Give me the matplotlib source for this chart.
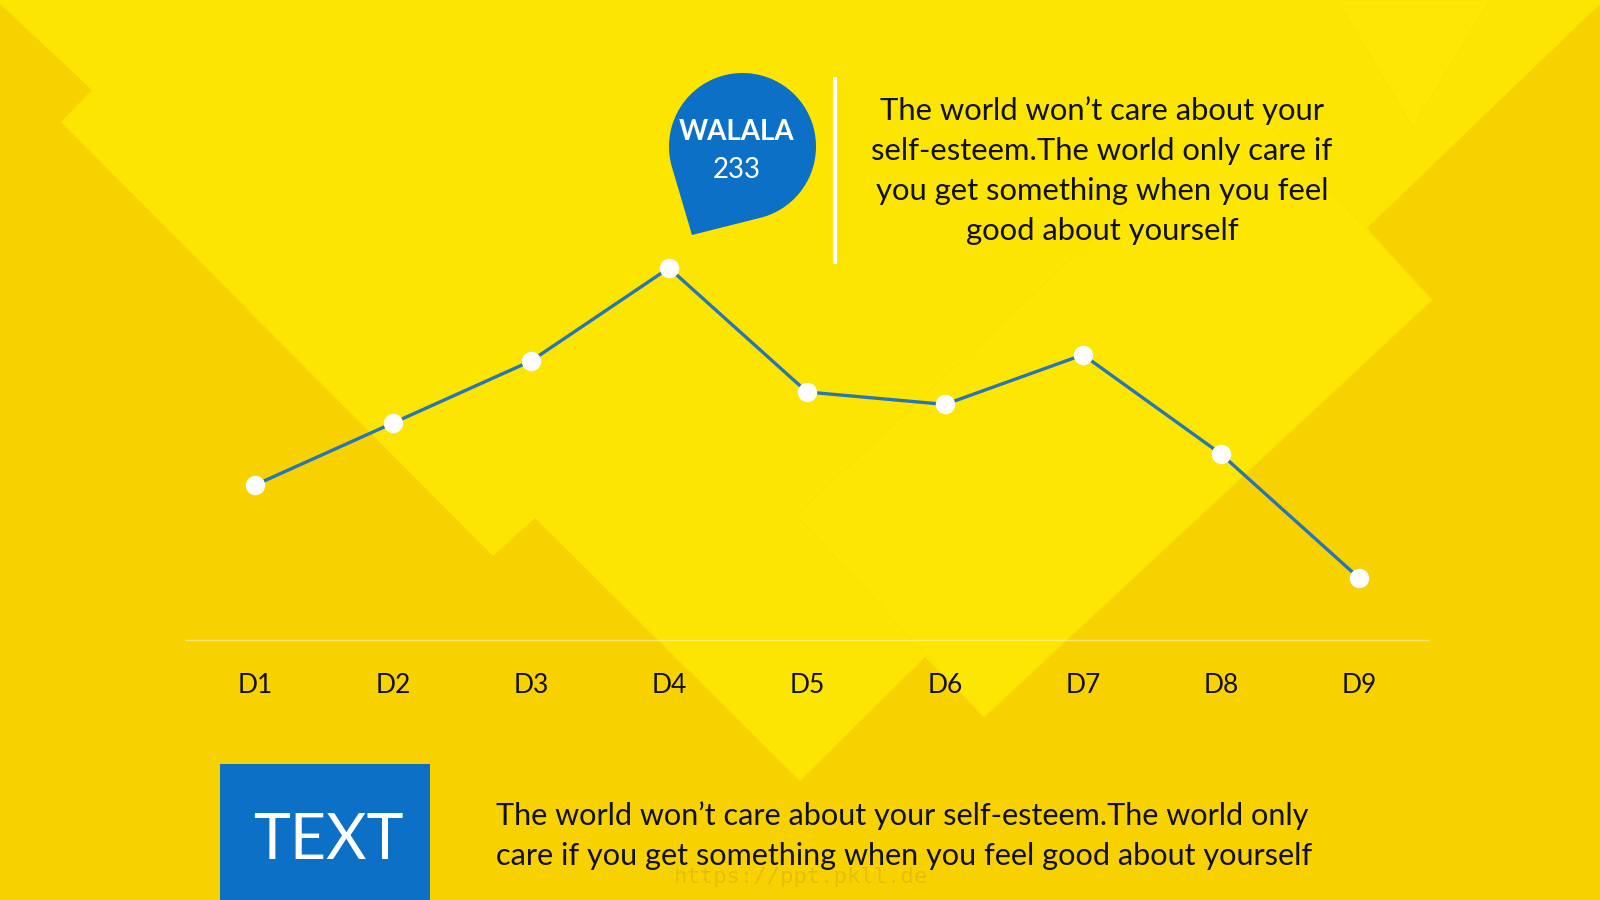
import numpy as np
import matplotlib.pyplot as plt
from matplotlib.patches import Polygon, Rectangle

plt.rcParams['font.family'] = ['Lato', 'DejaVu Sans']

# chart data
days = ['D1', 'D2', 'D3', 'D4', 'D5', 'D6', 'D7', 'D8', 'D9']
values = [2.5, 3.5, 4.5, 6.0, 4.0, 3.8, 4.6, 3.0, 1.0]

# callout / captions
bubble_title = 'WALALA'
bubble_value = '233'
quote_lines = [
    'The world won\u2019t care about your',
    'self-esteem.The world only care if',
    'you get something when you feel',
    'good about yourself',
]
foot_title = 'TEXT'
foot_lines = [
    'The world won\u2019t care about your self-esteem.The world only',
    'care if you get something when you feel good about yourself',
]

ORANGE = '#F8D200'
BRIGHT = '#FCE500'
BLUE = '#0B70C6'
LINE = '#2A76B4'

fig = plt.figure(figsize=(16, 9), dpi=100)
fig.patch.set_facecolor(ORANGE)

# background (pixel coords, y down)
bg = fig.add_axes([0, 0, 1, 1], zorder=0)
bg.set_xlim(0, 1600)
bg.set_ylim(900, 0)
bg.axis('off')
bg.add_patch(Rectangle((0, 0), 1600, 900, color=ORANGE, lw=0))
bright_shape = [(0, 0), (1600, 0), (1600, 4), (1367, 228), (1432, 300),
                (984, 717), (925, 657), (800, 781), (535, 518), (493, 556),
                (61, 122), (92, 90), (0, 4)]
bg.add_patch(Polygon(bright_shape, closed=True, color=BRIGHT, lw=0))
# faint diamonds for texture
bg.add_patch(Polygon([(796, 515), (984, 717), (1432, 300), (1244, 98)],
                     closed=True, fc='#FDE702', ec='#FAE200', lw=0.6))
bg.add_patch(Polygon([(1337, 0), (1490, 0), (1413, 128)],
                     closed=True, fc='#FDE703', ec='#FAE200', lw=0.6))

# line chart
ax = fig.add_axes([186 / 1600, 1 - 640 / 900, 1242 / 1600, 434 / 900], zorder=1)
ax.patch.set_alpha(0)
ax.set_xlim(-0.5, 8.5)
ax.set_ylim(0, 7)
for side in ['top', 'left', 'right']:
    ax.spines[side].set_visible(False)
ax.spines['bottom'].set_color((1, 1, 1, 0.45))
ax.spines['bottom'].set_linewidth(1)
ax.set_yticks([])
ax.set_xticks(range(len(days)))
ax.set_xticklabels(days)
ax.tick_params(axis='x', length=0, pad=24, labelsize=19, labelcolor='#111111')
ax.plot(range(len(days)), values, color=LINE, lw=2.4, marker='o', ms=14,
        mfc='white', mec='white', mew=0, clip_on=False, zorder=3)

# overlay: callout bubble, divider, text blocks
ov = fig.add_axes([0, 0, 1, 1], zorder=2)
ov.patch.set_alpha(0)
ov.set_xlim(0, 1600)
ov.set_ylim(900, 0)
ov.axis('off')

cx, cy, r = 742.5, 146.5, 73.5
tip = np.array([692.0, 235.0])
v = tip - np.array([cx, cy])
d = np.hypot(*v)
theta = np.arctan2(v[1], v[0])
alpha = np.arccos(r / d)
ang = np.linspace(theta + alpha, theta - alpha + 2 * np.pi, 120)
drop = np.column_stack([cx + r * np.cos(ang), cy + r * np.sin(ang)])
drop = np.vstack([tip, drop])
ov.add_patch(Polygon(drop, closed=True, color=BLUE, lw=0))
ov.text(737, 132, bubble_title, color='white', fontsize=20, fontweight='bold',
        ha='center', va='center')
ov.text(737, 170, bubble_value, color='white', fontsize=20,
        ha='center', va='center')

ov.plot([835, 835], [77, 264], color='white', lw=3, solid_capstyle='butt')

for i, line in enumerate(quote_lines):
    ov.text(1102, 111 + 40 * i, line, color='#111111', fontsize=22.3,
            ha='center', va='center')

ov.add_patch(Rectangle((220, 764), 210, 136, color=BLUE, lw=0))
ov.text(328, 841, foot_title, color='white', fontsize=45,
        ha='center', va='center')
for i, line in enumerate(foot_lines):
    ov.text(496, 816 + 40 * i, line, color='#111111', fontsize=22.1,
            ha='left', va='center')

ov.text(801, 877, 'https://ppt.pkll.de', color='#D8B400', alpha=0.6,
        fontsize=16, family='DejaVu Sans Mono', ha='center', va='center')

fig.savefig('out.png', dpi=100)
